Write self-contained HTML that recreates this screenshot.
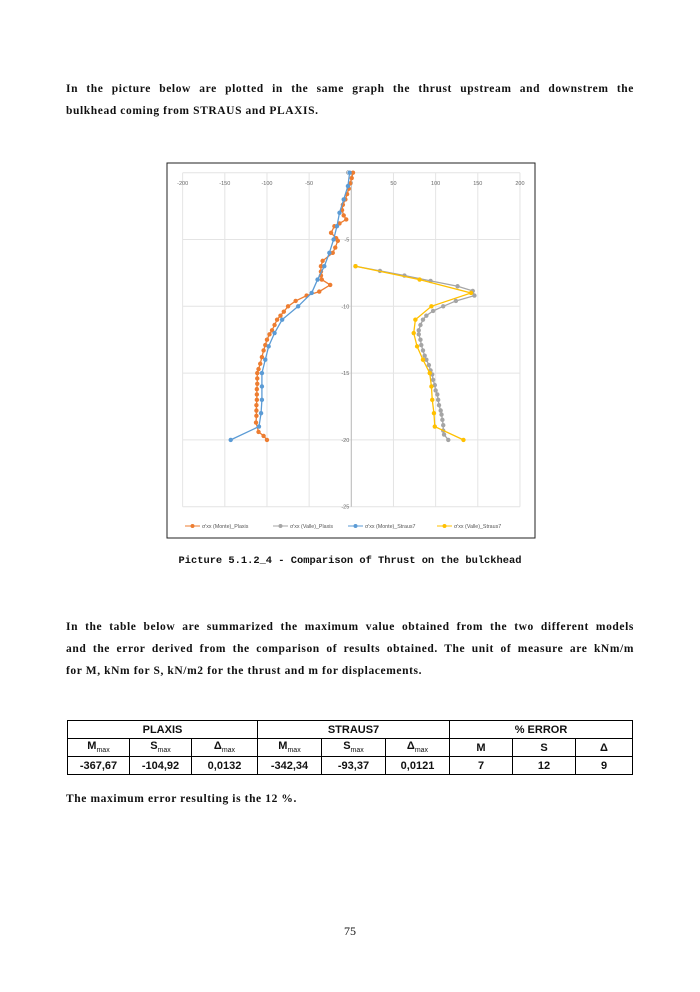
<!DOCTYPE html>
<html><head><meta charset="utf-8"><style>
body{margin:0;background:#fff;}
#pg{position:relative;width:700px;height:992px;overflow:hidden;font-family:"Liberation Serif",serif;color:#111;}
.t{position:absolute;left:66px;width:568px;font-size:11.5px;letter-spacing:0.6px;font-weight:bold;text-align:justify;text-align-last:justify;white-space:nowrap;}
.l{text-align-last:left;}
table{position:absolute;left:67px;top:720px;width:566px;border-collapse:collapse;font-family:"Liberation Sans",sans-serif;font-size:11px;font-weight:bold;}
td{border:1px solid #000;text-align:center;height:17px;padding:0;}
sub{font-size:7px;font-weight:normal;}
</style></head><body><div id="pg">
<div class="t" style="top:83px">In the picture below are plotted in the same graph the thrust upstream and downstrem the</div>
<div class="t l" style="top:105px">bulkhead coming from STRAUS and PLAXIS.</div>
<svg id="ch" style="position:absolute;left:0;top:0" width="700" height="560"></svg>
<div style="position:absolute;left:0;width:700px;top:555px;text-align:center;font-family:'Liberation Mono',monospace;font-size:10.4px;font-weight:bold;">Picture 5.1.2_4 - Comparison of Thrust on the bulckhead</div>
<div class="t" style="top:621px">In the table below are summarized the maximum value obtained from the two different models</div>
<div class="t" style="top:643px">and the error derived from the comparison of results obtained. The unit of measure are kNm/m</div>
<div class="t l" style="top:665px">for M, kNm for S, kN/m2 for the thrust and m for displacements.</div>
<table>
<tr><td colspan="3">PLAXIS</td><td colspan="3">STRAUS7</td><td colspan="3">% ERROR</td></tr>
<tr><td style="width:61px">M<sub>max</sub></td><td style="width:61px">S<sub>max</sub></td><td style="width:65px">Δ<sub>max</sub></td><td style="width:63px">M<sub>max</sub></td><td style="width:63px">S<sub>max</sub></td><td style="width:63px">Δ<sub>max</sub></td><td style="width:62px">M</td><td style="width:62px">S</td><td>Δ</td></tr>
<tr><td>-367,67</td><td>-104,92</td><td>0,0132</td><td>-342,34</td><td>-93,37</td><td>0,0121</td><td>7</td><td>12</td><td>9</td></tr>
</table>
<div class="t l" style="top:793px">The maximum error resulting is the 12 %.</div>
<div style="position:absolute;left:0;width:700px;top:924px;text-align:center;font-size:12px;">75</div>
</div>
<script>
const s=document.getElementById('ch');let h='';
const X=v=>351.3+v*0.8433, Y=d=>172.7+d*13.36;
h+='<rect x="167" y="163" width="368" height="375" fill="#fff" stroke="#222" stroke-width="1"/>';
for(let d=0;d<=25;d+=5){h+=`<line x1="182.7" x2="520" y1="${Y(d)}" y2="${Y(d)}" stroke="#e4e4e4"/>`;}
for(let v=-200;v<=200;v+=50){h+=`<line x1="${X(v)}" x2="${X(v)}" y1="172.7" y2="506.7" stroke="#e4e4e4"/>`;
h+=`<text x="${X(v)}" y="185" font-size="5.5" fill="#666" text-anchor="middle" font-family="Liberation Sans">${v}</text>`;}
h+=`<line x1="351.3" x2="351.3" y1="172.7" y2="506.7" stroke="#bbb"/>`;
for(let d=0;d<=25;d+=5){h+=`<text x="${X(0)-2}" y="${Y(d)+2}" font-size="5.5" fill="#666" text-anchor="end" font-family="Liberation Sans">${d?-d:0}</text>`;}
const P=(a,c)=>{let q=a.map(p=>X(p[1])+','+Y(p[0])).join(' ');let r=`<polyline points="${q}" fill="none" stroke="${c}" stroke-width="1.3"/>`;a.forEach(p=>r+=`<circle cx="${X(p[1])}" cy="${Y(p[0])}" r="2.2" fill="${c}"/>`);return r;};
let org=[[0,2],[0.4,0.5],[0.8,-1.5],[1.2,-3],[1.6,-5],[2,-7],[2.4,-10],[2.8,-11],[3.2,-9],[3.5,-6],[3.8,-14],[4,-20],[4.5,-24],[4.9,-18],[5.1,-16],[5.6,-19],[6,-22],[6.6,-34],[7,-36],[7.4,-36],[7.7,-36],[8,-35],[8.4,-25],[8.9,-38],[9.2,-53],[9.6,-66],[10,-75],[10.4,-80],[10.7,-84],[11,-88],[11.4,-91],[11.8,-94],[12.1,-97],[12.5,-100],[12.9,-102],[13.3,-104],[13.8,-106],[14.3,-108],[14.7,-110],[15,-111.5],[15.4,-111.5],[15.8,-111.5],[16.2,-112],[16.6,-112],[17,-112],[17.4,-112.5],[17.8,-112.5],[18.2,-112.5],[18.7,-113],[19.4,-110],[19.7,-104],[20,-100]];
let blu=[[0,-2],[1,-4],[2,-9],[3,-14],[4,-17],[5,-21],[6,-26],[7,-32],[8,-40],[9,-47],[10,-63],[11,-82],[12,-91],[13,-98],[14,-102],[15,-106],[16,-106],[17,-106],[18,-107],[19,-109.5],[20,-143]];
let gv=[[34,7.35],[63,7.7],[94,8.1],[126,8.5],[144,8.85],[146,9.2],[124,9.6],[109,10],[97,10.35],[89,10.7],[85,11],[82,11.4],[80,11.8],[80,12.1],[82,12.5],[83,12.9],[85,13.3],[87,13.7],[89,14],[92,14.4],[94,14.8],[96,15.1],[97,15.5],[99,15.9],[100,16.3],[102,16.6],[103,17],[104,17.4],[106,17.8],[107,18.1],[108,18.5],[109,18.9],[109,19.3],[110,19.6],[115,20]];
let gry=[[7,5]].concat(gv.map(p=>[p[1],p[0]]));
let yel=[[7,5],[8,81],[9,142],[10,95],[11,76],[12,74],[13,78],[14,85],[15,93],[16,95],[17,96],[18,98],[19,99],[20,133]];
h+=P(gry,'#a5a5a5')+P(org,'#ed7d31')+P(blu,'#5b9bd5')+P(yel,'#ffc000');
const L=[['#ed7d31',197,"σ'xx (Monte)_Plaxis"],['#a5a5a5',285,"σ'xx (Valle)_Plaxis"],['#5b9bd5',360,"σ'xx (Monte)_Straus7"],['#ffc000',449,"σ'xx (Valle)_Straus7"]];
L.forEach(l=>{h+=`<line x1="${l[1]-12}" x2="${l[1]+3}" y1="526" y2="526" stroke="${l[0]}"/><circle cx="${l[1]-4.5}" cy="526" r="2" fill="${l[0]}"/><text x="${l[1]+5}" y="528" font-size="5.3" fill="#555" font-family="Liberation Sans">${l[2]}</text>`;});
s.innerHTML=h;
</script>
</body></html>
